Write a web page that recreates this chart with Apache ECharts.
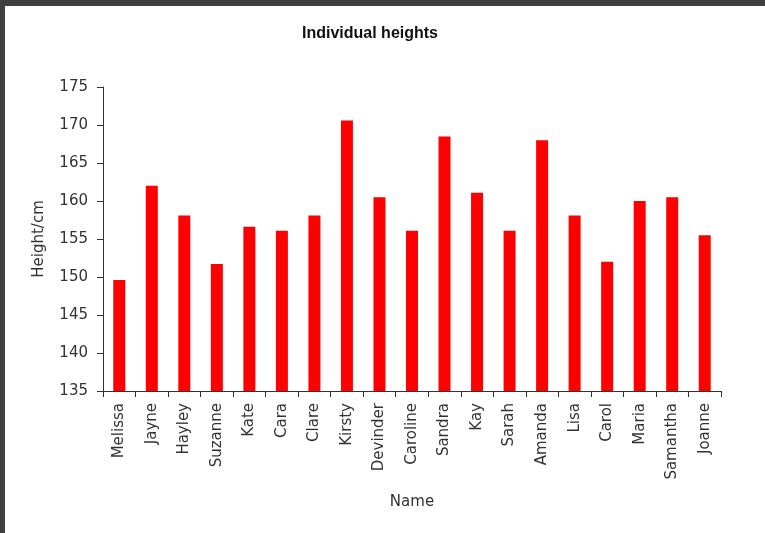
<!DOCTYPE html>
<html>
<head>
<meta charset="utf-8">
<script src="https://cdn.jsdelivr.net/npm/echarts@6/dist/echarts.min.js"></script>
<style>
  html, body { margin: 0; padding: 0; background: #fff; }
  #frame { width: 760px; height: 527px; border-top: 6px solid #404040; border-left: 5px solid #404040; }
  #main { width: 760px; height: 527px; }
</style>
</head>
<body>
<div id="frame"><div id="main"></div></div>
<script>
// 数据
var names = ['Melissa', 'Jayne', 'Hayley', 'Suzanne', 'Kate', 'Cara', 'Clare', 'Kirsty', 'Devinder',
  'Caroline', 'Sandra', 'Kay', 'Sarah', 'Amanda', 'Lisa', 'Carol', 'Maria', 'Samantha', 'Joanne']
var heights = [149.6, 162, 158.1, 151.7, 156.6, 156.1, 158.1, 170.6, 160.5,
  156.1, 168.5, 161.1, 156.1, 168, 158.1, 152, 160, 160.5, 155.5]

var chart = echarts.init(document.getElementById('main'))

var font = 'DejaVu Sans, Arial, sans-serif'

var option = {
  animation: false,
  title: {
    text: 'Individual heights',
    left: 292,
    top: 15,
    textStyle: { fontFamily: 'Liberation Sans, Arial, sans-serif', fontSize: 16, fontWeight: 'bold', color: '#111' }
  },
  grid: {
    left: 98,
    top: 81,
    right: 44,
    bottom: 142
  },
  xAxis: {
    type: 'category',
    data: names,
    name: 'Name',
    nameLocation: 'middle',
    nameGap: 104,
    nameTextStyle: { fontFamily: font, fontSize: 15, color: '#333' },
    axisLine: { lineStyle: { color: '#333', width: 1 } },
    axisTick: { show: true, length: 6, lineStyle: { color: '#333' } },
    axisLabel: {
      rotate: 90,
      interval: 0,
      margin: 12,
      fontFamily: font,
      fontSize: 15,
      color: '#333'
    }
  },
  yAxis: {
    type: 'value',
    min: 135,
    max: 175,
    interval: 5,
    name: 'Height/cm',
    nameLocation: 'middle',
    nameGap: 56,
    nameTextStyle: { fontFamily: font, fontSize: 15, color: '#333' },
    axisLine: { show: true, lineStyle: { color: '#333', width: 1 } },
    axisTick: { show: true, length: 6, lineStyle: { color: '#333' } },
    splitLine: { show: false },
    axisLabel: {
      margin: 15,
      fontFamily: font,
      fontSize: 15,
      color: '#333'
    }
  },
  series: [{
    type: 'bar',
    data: heights,
    barWidth: 12,
    itemStyle: { color: '#ff0000' }
  }]
}

chart.setOption(option)
</script>
</body>
</html>
